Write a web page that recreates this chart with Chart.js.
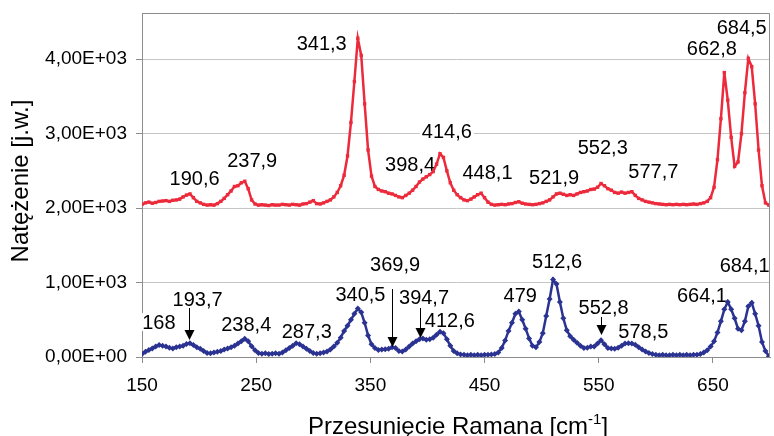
<!DOCTYPE html>
<html>
<head>
<meta charset="utf-8">
<script src="https://cdn.jsdelivr.net/npm/chart.js@4.4.1/dist/chart.umd.min.js"></script>
<style>
  html, body { margin: 0; padding: 0; background: #fff; }
  canvas { display: block; }
</style>
</head>
<body>
<canvas id="myChart" width="774" height="436"></canvas>
<script>
// Przesuniecie Ramana [cm-1]
const wavenumbers = [
  150, 153, 156, 159, 162, 165, 168, 171, 174, 177, 180, 183, 186, 189, 192, 195, 198, 201, 204, 207,
  210, 213, 216, 219, 222, 225, 228, 231, 234, 237, 240, 243, 246, 249, 252, 255, 258, 261, 264, 267,
  270, 273, 276, 279, 282, 285, 288, 291, 294, 297, 300, 303, 306, 309, 312, 315, 318, 321, 324, 327,
  330, 333, 336, 339, 342, 345, 348, 351, 354, 357, 360, 363, 366, 369, 372, 375, 378, 381, 384, 387,
  390, 393, 396, 399, 402, 405, 408, 411, 414, 417, 420, 423, 426, 429, 432, 435, 438, 441, 444, 447,
  450, 453, 456, 459, 462, 465, 468, 471, 474, 477, 480, 483, 486, 489, 492, 495, 498, 501, 504, 507,
  510, 513, 516, 519, 522, 525, 528, 531, 534, 537, 540, 543, 546, 549, 552, 555, 558, 561, 564, 567,
  570, 573, 576, 579, 582, 585, 588, 591, 594, 597, 600, 603, 606, 609, 612, 615, 618, 621, 624, 627,
  630, 633, 636, 639, 642, 645, 648, 651, 654, 657, 660, 663, 666, 669, 672, 675, 678, 681, 684, 687,
  690, 693, 696, 699
];

// widmo gorne (czerwone)
const redIntensity = [
  2050, 2070, 2080, 2065, 2075, 2090, 2095, 2100, 2090, 2105, 2110, 2120, 2150, 2175, 2190, 2140, 2090, 2070, 2050, 2040,
  2045, 2040, 2060, 2090, 2130, 2180, 2230, 2290, 2300, 2340, 2360, 2260, 2110, 2055, 2040, 2045, 2040, 2035, 2045, 2040,
  2040, 2050, 2045, 2040, 2050, 2045, 2040, 2055, 2060, 2080, 2100, 2060, 2055, 2070, 2090, 2110, 2150, 2210, 2300, 2440,
  2700, 3150, 3700, 4280, 4050, 3400, 2780, 2430, 2290, 2250, 2230, 2220, 2200, 2190, 2170, 2150, 2140, 2170, 2200, 2240,
  2290, 2350, 2390, 2420, 2450, 2490, 2590, 2730, 2680, 2500, 2340, 2240, 2180, 2140, 2110, 2100, 2120, 2150, 2180, 2200,
  2140, 2080, 2050, 2040, 2045, 2050, 2045, 2055, 2060, 2075, 2085, 2065, 2055, 2050, 2045, 2050, 2060, 2070, 2090, 2110,
  2150, 2190, 2200, 2185, 2170, 2180, 2170, 2190, 2210, 2220, 2230, 2250, 2255, 2280, 2330, 2300, 2260, 2240, 2210, 2200,
  2215, 2200, 2210, 2220, 2170, 2130, 2110, 2090, 2080, 2070, 2060, 2055, 2050, 2045, 2050, 2045, 2050, 2045, 2050, 2045,
  2050, 2055, 2050, 2060, 2070, 2090, 2140, 2280, 2650, 3200, 3820, 3450, 2950, 2560, 2620, 3000, 3550, 4010, 3900, 3400,
  2780, 2300, 2070, 2040
];

// widmo dolne (niebieskie)
const blueIntensity = [
  40, 70, 95, 115, 140, 160, 150, 140, 125, 115, 130, 140, 150, 175, 185, 160, 130, 110, 80, 55,
  50, 60, 70, 80, 100, 115, 130, 150, 180, 210, 245, 210, 145, 90, 55, 45, 50, 40, 45, 50,
  45, 60, 90, 120, 150, 185, 170, 140, 110, 80, 55, 45, 50, 60, 75, 100, 140, 190, 260, 350,
  420, 500, 580, 650, 600, 460, 290, 170, 120, 95, 100, 105, 110, 130, 120, 80, 75, 100, 140, 180,
  210, 240, 250, 230, 240, 260, 300, 340, 320, 240, 150, 80, 50, 35, 30, 25, 30, 25, 30, 25,
  30, 30, 35, 40, 60, 120, 220, 350, 460, 580, 610, 500, 380, 250, 150, 130, 200, 320, 550, 780,
  1040, 980, 740, 520, 360, 280, 230, 190, 150, 120, 125, 140, 140, 180, 225, 170, 120, 115, 110, 125,
  150, 180, 185, 180, 165, 130, 100, 75, 55, 40, 30, 25, 30, 25, 25, 30, 25, 30, 25, 30,
  25, 30, 30, 40, 60, 90, 140, 210, 330, 480, 640, 740, 640, 520, 380, 360, 480, 680, 730, 580,
  420, 200, 80, 10
];

const xTicks = [150, 250, 350, 450, 550, 650];
const yTicks = [0, 1000, 2000, 3000, 4000];
const yTickLabels = ['0,00E+00', '1,00E+03', '2,00E+03', '3,00E+03', '4,00E+03'];

// opisy pikow: tekst, polozenie srodka napisu w jednostkach wykresu
const peakTexts = ['190,6', '237,9', '341,3', '398,4', '414,6', '448,1', '521,9', '552,3', '577,7', '662,8', '684,5',
  '168', '193,7', '238,4', '287,3', '340,5', '369,9', '394,7', '412,6', '479', '512,6', '552,8', '578,5', '664,1', '684,1'];
const peakTextX = [196.1, 246.5, 307.4, 384.8, 417, 452.6, 510.9, 553.5, 597.8, 649.1, 675.2,
  164.8, 198.7, 241.3, 294.3, 341.3, 371.7, 397, 419.6, 481.3, 513.5, 554.3, 589.1, 640.4, 677.8];
const peakTextY = [2403, 2644, 4215, 2591, 3034, 2483, 2416, 2819, 2497, 4148, 4430,
  470, 779, 443, 349, 846, 1248, 805, 497, 832, 1289, 671, 349, 832, 1235];

// strzalki: x, poczatek, koniec
const arrowX = [190.9, 369.1, 393.5, 551.7];
const arrowFrom = [658, 913, 658, 537];
const arrowTo = [228, 134, 255, 295];

const FONT = '"Liberation Sans", Arial, sans-serif';

const ramkaPlugin = {
  id: 'ramka',
  beforeDatasetsDraw(chart) {
    const ctx = chart.ctx, x = chart.scales.x, y = chart.scales.y;
    ctx.save();
    ctx.font = '20px ' + FONT;
    ctx.textAlign = 'center';
    ctx.textBaseline = 'middle';
    peakTexts.forEach((t, i) => {
      const px = x.getPixelForValue(peakTextX[i]);
      const py = y.getPixelForValue(peakTextY[i]);
      const w = ctx.measureText(t).width;
      ctx.fillStyle = '#fff';
      ctx.fillRect(px - w / 2 - 2, py - 9, w + 4, 18);
      ctx.fillStyle = '#000';
      ctx.fillText(t, px, py + 1);
    });
    ctx.restore();
  },
  afterDraw(chart) {
    const ctx = chart.ctx, a = chart.chartArea, x = chart.scales.x, y = chart.scales.y;
    ctx.save();
    // ramka obszaru wykresu
    ctx.strokeStyle = '#8c8c8c';
    ctx.lineWidth = 1;
    ctx.beginPath();
    ctx.moveTo(a.left, a.top + 0.5);
    ctx.lineTo(a.right - 0.5, a.top + 0.5);
    ctx.lineTo(a.right - 0.5, a.bottom);
    ctx.stroke();

    // strzalki
    ctx.strokeStyle = '#000';
    ctx.fillStyle = '#000';
    arrowX.forEach((v, i) => {
      const px = Math.round(x.getPixelForValue(v)) + 0.5;
      const y1 = y.getPixelForValue(arrowFrom[i]);
      const y2 = y.getPixelForValue(arrowTo[i]);
      ctx.beginPath();
      ctx.moveTo(px, y1);
      ctx.lineTo(px, y2 - 8);
      ctx.stroke();
      ctx.beginPath();
      ctx.moveTo(px - 5, y2 - 10);
      ctx.lineTo(px + 5, y2 - 10);
      ctx.lineTo(px, y2);
      ctx.closePath();
      ctx.fill();
    });

    // tytuly osi
    ctx.fillStyle = '#000';
    ctx.font = '24px ' + FONT;
    ctx.textAlign = 'center';
    ctx.textBaseline = 'middle';
    ctx.save();
    ctx.translate(21, 181);
    ctx.rotate(-Math.PI / 2);
    ctx.fillText('Natężenie [j.w.]', 0, 0);
    ctx.restore();

    const t1 = 'Przesunięcie Ramana [cm', t2 = '-1', t3 = ']';
    ctx.textAlign = 'left';
    ctx.textBaseline = 'alphabetic';
    const w1 = ctx.measureText(t1).width, w3 = ctx.measureText(t3).width;
    ctx.font = '15px ' + FONT;
    const w2 = ctx.measureText(t2).width;
    let sx = 458 - (w1 + w2 + w3) / 2;
    const base = 434;
    ctx.font = '24px ' + FONT;
    ctx.fillText(t1, sx, base);
    sx += w1;
    ctx.font = '15px ' + FONT;
    ctx.fillText(t2, sx, base - 10);
    sx += w2;
    ctx.font = '24px ' + FONT;
    ctx.fillText(t3, sx, base);
    ctx.restore();
  }
};

const data = {
  datasets: [{
    label: 'czerwone',
    data: wavenumbers.map((v, i) => ({ x: v, y: redIntensity[i] })),
    borderColor: '#ec2a3b',
    backgroundColor: '#ec2a3b',
    borderWidth: 2.5,
    pointStyle: 'rect',
    pointRadius: 2.4,
    pointBorderWidth: 0,
    tension: 0
  }, {
    label: 'niebieskie',
    data: wavenumbers.map((v, i) => ({ x: v, y: blueIntensity[i] })),
    borderColor: '#2b3392',
    backgroundColor: '#2b3392',
    borderWidth: 2.5,
    pointStyle: 'rectRot',
    pointRadius: 3,
    pointBorderWidth: 0,
    tension: 0
  }]
};

const config = {
  type: 'line',
  data: data,
  options: {
    responsive: false,
    animation: false,
    devicePixelRatio: 1,
    layout: { padding: { top: 13, right: 1, left: 0, bottom: 0 } },
    plugins: {
      legend: { display: false },
      tooltip: { enabled: false }
    },
    scales: {
      x: {
        type: 'linear',
        min: 150,
        max: 700,
        afterBuildTicks: s => { s.ticks = xTicks.map(v => ({ value: v })); },
        afterFit: s => { s.height = 79; s.paddingLeft = 0; s.paddingRight = 0; },
        grid: { drawOnChartArea: false, drawTicks: true, tickLength: 6, color: '#8c8c8c' },
        border: { color: '#8c8c8c', width: 1 },
        ticks: { font: { family: FONT, size: 19 }, color: '#000', padding: 11, maxRotation: 0 }
      },
      y: {
        min: 0,
        max: 4620,
        afterBuildTicks: s => { s.ticks = yTicks.map(v => ({ value: v })); },
        afterFit: s => { s.width = 142; s.paddingTop = 0; s.paddingBottom = 0; },
        grid: { color: '#c6c6c6', tickColor: '#8c8c8c', tickLength: 6 },
        border: { color: '#8c8c8c', width: 1 },
        ticks: {
          font: { family: FONT, size: 19 },
          color: '#000',
          padding: 9,
          callback: (v, i) => yTickLabels[i]
        }
      }
    }
  },
  plugins: [ramkaPlugin]
};

const myChart = new Chart(document.getElementById('myChart'), config);
</script>
</body>
</html>
